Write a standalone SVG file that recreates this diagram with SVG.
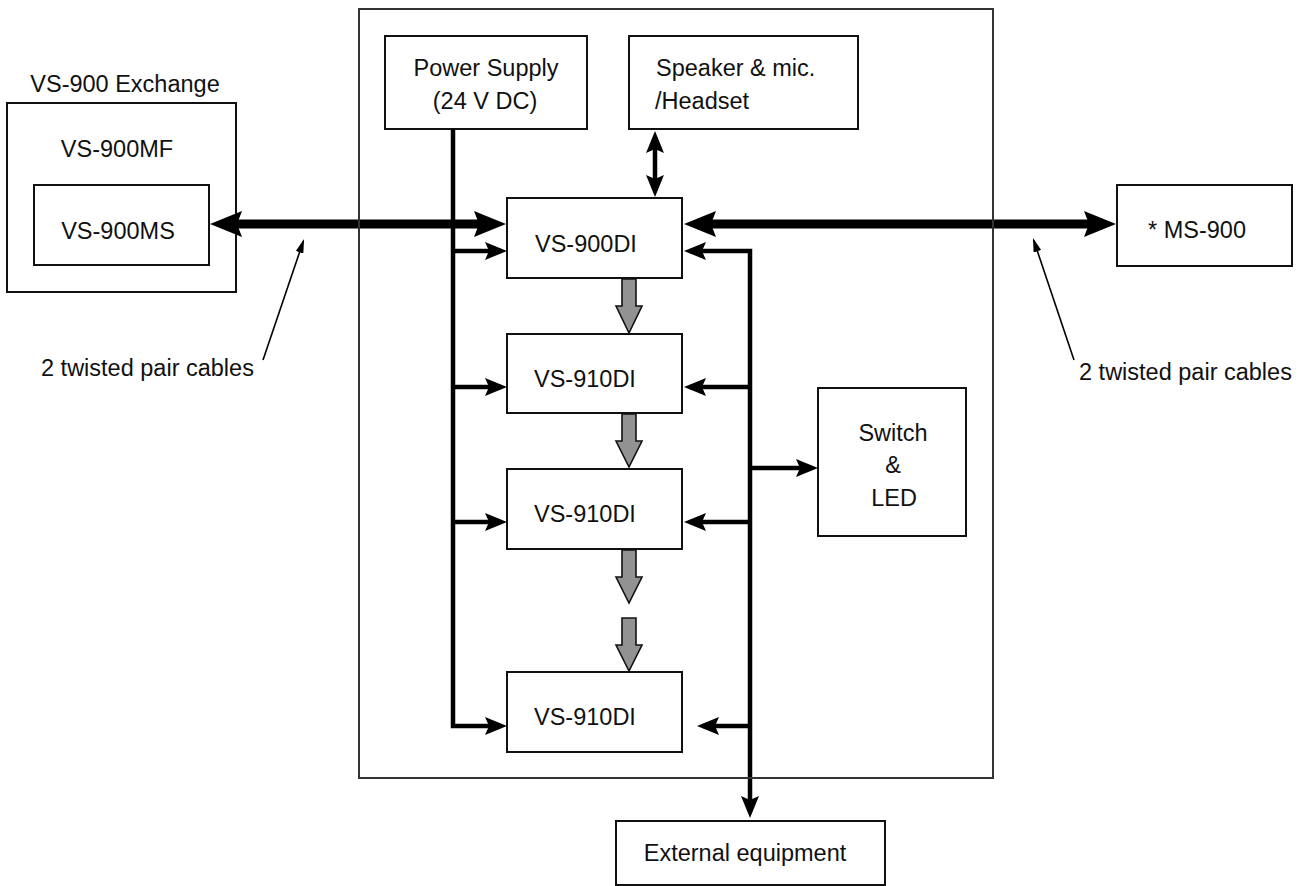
<svg xmlns="http://www.w3.org/2000/svg" width="1309" height="886" viewBox="0 0 1309 886">
<style>
  .box { fill: #ffffff; stroke: #111111; stroke-width: 2; }
  .frame { fill: none; stroke: #333333; stroke-width: 2; }
  text { font-family: "Liberation Sans", Arial, Helvetica, sans-serif; font-size: 23.5px; fill: #111111; }
  .mid { text-anchor: middle; }
  .thick { fill: none; stroke: #000000; stroke-width: 9; }
  .bus { fill: none; stroke: #000000; stroke-width: 4.5; stroke-linejoin: miter; }
  .ptr { fill: none; stroke: #000000; stroke-width: 1.6; }
  .gray { fill: #929292; stroke: #111111; stroke-width: 1.6; stroke-linejoin: miter; }
</style>
<defs>
  <marker id="hb" markerUnits="userSpaceOnUse" viewBox="0 0 32 26" refX="20" refY="13" markerWidth="32" markerHeight="26" orient="auto-start-reverse">
    <path d="M0,0 L32,13 L0,26 L5,13 Z" fill="#000000"/>
  </marker>
  <marker id="hs" markerUnits="userSpaceOnUse" viewBox="0 0 22 18" refX="16" refY="9" markerWidth="22" markerHeight="18" orient="auto-start-reverse">
    <path d="M0,0 L22,9 L0,18 L4,9 Z" fill="#000000"/>
  </marker>
  <marker id="hp" markerUnits="userSpaceOnUse" viewBox="0 0 14 8" refX="12" refY="4" markerWidth="14" markerHeight="8" orient="auto">
    <path d="M0,0 L14,4 L0,8 Z" fill="#000000"/>
  </marker>
</defs>

<rect x="0" y="0" width="1309" height="886" fill="#ffffff"/>

<g id="exchange">
  <text class="mid" x="125" y="92">VS-900 Exchange</text>
  <rect class="box" x="7" y="103" width="229" height="189"/>
  <text class="mid" x="117" y="157">VS-900MF</text>
</g>
<g id="vs900ms">
  <rect class="box" x="34" y="185" width="175" height="80"/>
  <text class="mid" x="118" y="239">VS-900MS</text>
</g>
<g id="power">
  <rect class="box" x="385" y="36" width="202" height="93"/>
  <text class="mid" x="486" y="76">Power Supply</text>
  <text class="mid" x="485" y="109">(24 V DC)</text>
</g>
<g id="speaker">
  <rect class="box" x="629" y="36" width="229" height="93"/>
  <text x="656" y="76">Speaker &amp; mic.</text>
  <text x="655" y="109">/Headset</text>
</g>
<g id="vs900di">
  <rect class="box" x="507" y="198" width="175" height="80"/>
  <text x="535" y="252">VS-900DI</text>
</g>
<g id="vs910di-1">
  <rect class="box" x="507" y="334" width="175" height="79"/>
  <text x="534" y="387">VS-910DI</text>
</g>
<g id="vs910di-2">
  <rect class="box" x="507" y="469" width="175" height="80"/>
  <text x="534" y="522">VS-910DI</text>
</g>
<g id="vs910di-3">
  <rect class="box" x="507" y="672" width="175" height="80"/>
  <text x="534" y="725">VS-910DI</text>
</g>
<g id="switch">
  <rect class="box" x="818" y="388" width="148" height="148"/>
  <text class="mid" x="893" y="441">Switch</text>
  <text class="mid" x="893" y="473">&amp;</text>
  <text class="mid" x="894" y="506">LED</text>
</g>
<g id="ms900">
  <rect class="box" x="1117" y="185" width="175" height="81"/>
  <text class="mid" x="1197" y="238">* MS-900</text>
</g>
<g id="external">
  <rect class="box" x="616" y="821" width="269" height="64"/>
  <text class="mid" x="745" y="861">External equipment</text>
</g>
<g id="label-left">
  <text x="41" y="376">2 twisted pair cables</text>
</g>
<g id="label-right">
  <text x="1079" y="380">2 twisted pair cables</text>
</g>

<g id="connectors">
  <!-- thick cable links -->
  <line class="thick" x1="222" y1="224" x2="494" y2="224" marker-start="url(#hb)" marker-end="url(#hb)"/>
  <line class="thick" x1="696" y1="224" x2="1104" y2="224" marker-start="url(#hb)" marker-end="url(#hb)"/>
  <!-- speaker link -->
  <line class="bus" x1="655" y1="137" x2="655" y2="191" marker-start="url(#hs)" marker-end="url(#hs)"/>
  <!-- power bus -->
  <path class="bus" d="M453,129 V726 H501" marker-end="url(#hs)"/>
  <path class="bus" d="M451,251 H501" marker-end="url(#hs)"/>
  <path class="bus" d="M451,387 H501" marker-end="url(#hs)"/>
  <path class="bus" d="M451,522 H501" marker-end="url(#hs)"/>
  <!-- control bus -->
  <path class="bus" d="M690,251 H750 V812" marker-start="url(#hs)" marker-end="url(#hs)"/>
  <path class="bus" d="M752,387 H690" marker-end="url(#hs)"/>
  <path class="bus" d="M752,522 H690" marker-end="url(#hs)"/>
  <path class="bus" d="M752,726 H703" marker-end="url(#hs)"/>
  <path class="bus" d="M748,468 H812" marker-end="url(#hs)"/>
  <!-- gray data arrows -->
  <polygon class="gray" points="622,279 636,279 636,306 642,306 629,333 616,306 622,306"/>
  <polygon class="gray" points="622,414 636,414 636,441 642,441 629,467 616,441 622,441"/>
  <polygon class="gray" points="622,550 636,550 636,577 642,577 629,603 616,577 622,577"/>
  <polygon class="gray" points="622,618 636,618 636,645 642,645 629,671 616,645 622,645"/>
  <!-- label pointers -->
  <line class="ptr" x1="263" y1="360" x2="303.4" y2="240.9" marker-end="url(#hp)"/>
  <line class="ptr" x1="1074" y1="360" x2="1033.6" y2="239.9" marker-end="url(#hp)"/>
</g>

<g id="frame">
  <rect class="frame" x="359" y="9" width="634" height="769"/>
</g>
</svg>
